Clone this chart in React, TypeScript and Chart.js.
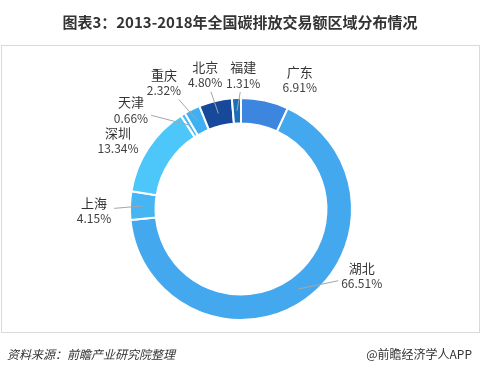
import React, { useEffect, useRef } from "react";
import { Chart, registerables } from "chart.js";

Chart.register(...registerables);

const REGIONS = ["广东", "湖北", "上海", "深圳", "天津", "重庆", "北京", "福建"];
const SHARES = [6.91, 66.51, 4.15, 13.34, 0.66, 2.32, 4.8, 1.31];
const PCT_LABELS = ["6.91%", "66.51%", "4.15%", "13.34%", "0.66%", "2.32%", "4.80%", "1.31%"];
const COLORS = ["#3d86e0", "#43a8ee", "#46b5f3", "#4dc7fa", "#4ab9f5", "#3fb0f2", "#17499a", "#1a70b8"];

// label layout: angular shift from slice mid-angle (deg), label radius (px), whether a leader line is drawn
const LABEL_SHIFT = [12, -25.6, -2.2, -4, -16.5, -5.2, -1.6, 3.3];
const LABEL_RADIUS = [142, 138, 147, 141, 148, 148, 139, 134];
const SHOW_LINE = [false, true, true, false, true, true, true, true];

const TITLE = "图表3：2013-2018年全国碳排放交易额区域分布情况";
const SOURCE = "资料来源：前瞻产业研究院整理";
const BRAND = "@前瞻经济学人APP";

const FONT = '"Noto Sans CJK SC", "Microsoft YaHei", sans-serif';

const decorPlugin = {
  id: "decor",
  beforeDraw(chart: any) {
    const ctx = chart.ctx;
    ctx.save();
    ctx.fillStyle = "#ffffff";
    ctx.fillRect(0, 0, chart.width, chart.height);
    ctx.strokeStyle = "#d9d9d9";
    ctx.lineWidth = 1;
    ctx.strokeRect(1.5, 45.5, 478, 287);
    ctx.fillStyle = "#333333";
    ctx.font = `bold 15px ${FONT}`;
    ctx.textAlign = "center";
    ctx.textBaseline = "middle";
    ctx.fillText(TITLE, 240, 22);
    ctx.font = `italic 12px ${FONT}`;
    ctx.textAlign = "left";
    ctx.fillText(SOURCE, 7, 354);
    ctx.font = `12px ${FONT}`;
    ctx.textAlign = "right";
    ctx.fillText(BRAND, 472, 354);
    ctx.restore();
  },
  afterDatasetsDraw(chart: any) {
    const ctx = chart.ctx;
    const meta = chart.getDatasetMeta(0);
    ctx.save();
    meta.data.forEach((arc: any, i: number) => {
      const p = arc.getProps(["x", "y", "startAngle", "endAngle", "innerRadius", "outerRadius"], true);
      const mid = (p.startAngle + p.endAngle) / 2;
      const la = mid + (LABEL_SHIFT[i] * Math.PI) / 180;
      const cx = p.x + LABEL_RADIUS[i] * Math.cos(la);
      const cy = p.y + LABEL_RADIUS[i] * Math.sin(la);
      ctx.font = `13px ${FONT}`;
      const w1 = ctx.measureText(REGIONS[i]).width;
      ctx.font = `12px ${FONT}`;
      const w2 = ctx.measureText(PCT_LABELS[i]).width;
      const hw = Math.max(w1, w2) / 2;
      if (SHOW_LINE[i]) {
        const rm = (p.innerRadius + p.outerRadius) / 2;
        const sx = p.x + rm * Math.cos(mid);
        const sy = p.y + rm * Math.sin(mid);
        const x0 = cx - hw - 3, x1 = cx + hw + 3, y0 = cy - 17, y1 = cy + 17;
        const dx = cx - sx, dy = cy - sy;
        let t = 1;
        if (dx > 0) t = Math.min(t, (x0 - sx) / dx);
        if (dx < 0) t = Math.min(t, (x1 - sx) / dx);
        if (dy > 0) t = Math.min(t, (y0 - sy) / dy);
        if (dy < 0) t = Math.min(t, (y1 - sy) / dy);
        // use the largest entry parameter (slab method)
        const ts: number[] = [];
        if (dx !== 0) ts.push(Math.min((x0 - sx) / dx, (x1 - sx) / dx));
        if (dy !== 0) ts.push(Math.min((y0 - sy) / dy, (y1 - sy) / dy));
        t = Math.max(0, Math.min(1, Math.max(...ts)));
        ctx.strokeStyle = "#a6a6a6";
        ctx.lineWidth = 1;
        ctx.beginPath();
        ctx.moveTo(sx, sy);
        ctx.lineTo(sx + dx * t, sy + dy * t);
        ctx.stroke();
      }
      ctx.textAlign = "center";
      ctx.textBaseline = "middle";
      ctx.fillStyle = "#333333";
      ctx.font = `13px ${FONT}`;
      ctx.fillText(REGIONS[i], cx, cy - 7.5);
      ctx.fillStyle = "#404040";
      ctx.font = `12px ${FONT}`;
      ctx.fillText(PCT_LABELS[i], cx, cy + 8);
    });
    ctx.restore();
  },
};

export default function App() {
  const ref = useRef<HTMLCanvasElement>(null);
  useEffect(() => {
    document.body.style.margin = "0";
    const chart = new Chart(ref.current as HTMLCanvasElement, {
      type: "doughnut",
      data: {
        labels: REGIONS,
        datasets: [
          {
            data: SHARES,
            backgroundColor: COLORS,
            borderColor: "#ffffff",
            borderWidth: 2,
          },
        ],
      },
      options: {
        responsive: false,
        animation: false,
        events: [],
        cutout: "77%",
        layout: { padding: { top: 97, bottom: 51, left: 129, right: 128 } },
        plugins: { legend: { display: false }, tooltip: { enabled: false }, title: { display: false } },
      },
      plugins: [decorPlugin],
    } as any);
    return () => chart.destroy();
  }, []);
  return (
    <div style={{ position: "absolute", left: 0, top: 0, width: 481, height: 372 }}>
      <canvas ref={ref} width={481} height={372} />
    </div>
  );
}
